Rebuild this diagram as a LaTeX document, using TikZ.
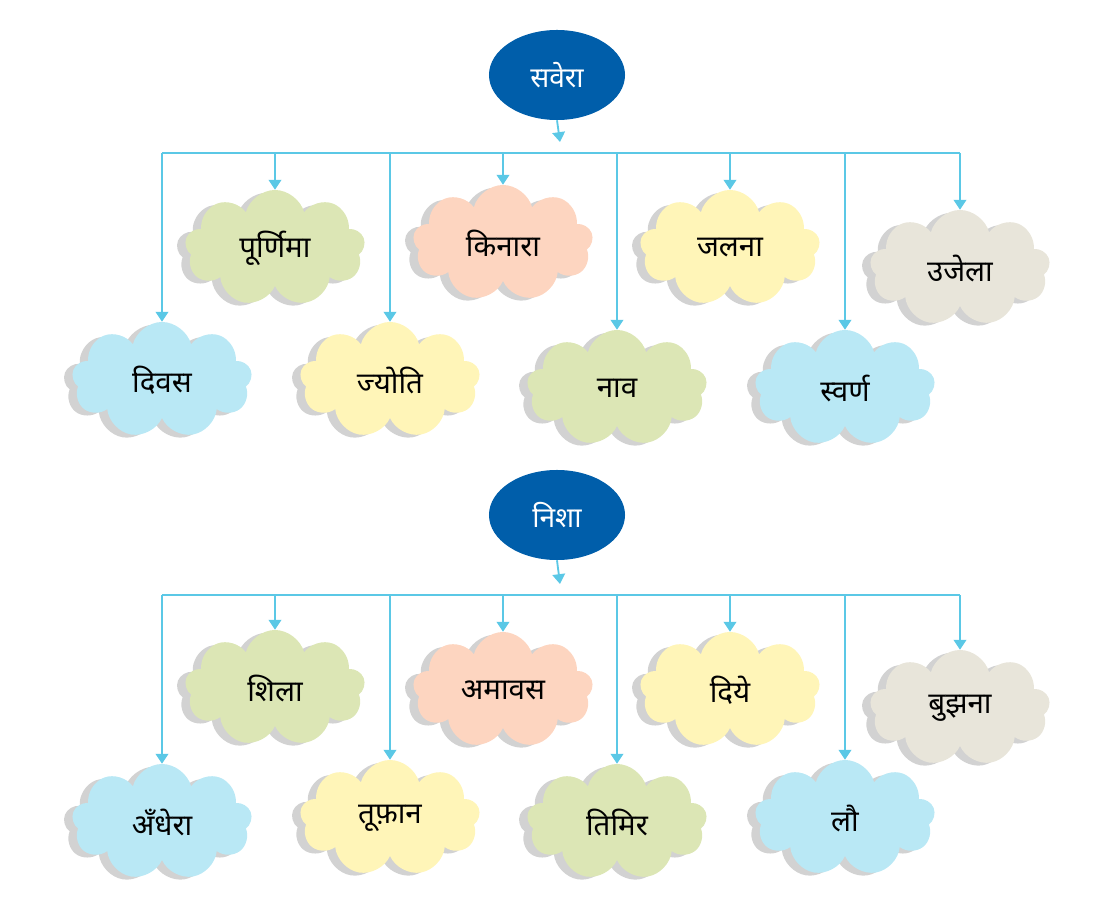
\documentclass[tikz,border=0pt]{standalone}
\usepackage{fontspec}
\newfontfamily\deva[Script=Devanagari]{Noto Sans}
\usetikzlibrary{shapes.symbols,shapes.geometric,shadows,arrows.meta}
\definecolor{linkblue}{HTML}{5BC8E6}
\definecolor{headblue}{HTML}{005EAA}
\definecolor{cblue}{HTML}{B9E8F5}
\definecolor{cyellow}{HTML}{FFF5B8}
\definecolor{cgreen}{HTML}{DCE6B5}
\definecolor{cpeach}{HTML}{FDD5C0}
\definecolor{cbeige}{HTML}{E8E5DA}
\tikzset{
  head/.style={ellipse,fill=headblue,minimum width=3.4cm,minimum height=2.25cm,
    text=white,font=\deva\bfseries\fontsize{20}{24}\selectfont},
  cloudbox/.style={cloud,cloud puffs=9,aspect=1.6,fill=#1,minimum width=4.5cm,
    minimum height=2.9cm,inner sep=0pt,font=\deva\fontsize{21}{25}\selectfont,
    drop shadow={shadow xshift=-6pt,shadow yshift=-2pt,fill=gray!35,opacity=1}},
  link/.style={draw=linkblue,line width=1.3pt},
  arr/.style={link,-{Triangle[length=7pt,width=9pt]}},
}
\begin{document}
\begin{tikzpicture}[x=0.025cm,y=-0.025cm]
  \useasboundingbox (0,0) rectangle (1099,912);

  % top tree
  \node[head] (savera) at (557,75) {सवेरा};
  \coordinate (sbusL) at (162,153);
  \coordinate (sbusR) at (960,153);
  \draw[arr] (savera.south) -- (560,142);
  \draw[link] (sbusL) -- (sbusR);

  \node[cloudbox=cgreen]  (purnima) at (275,248) {पूर्णिमा};
  \node[cloudbox=cpeach]  (kinara)  at (503,243) {किनारा};
  \node[cloudbox=cyellow] (jalna)   at (730,248) {जलना};
  \node[cloudbox=cbeige]  (ujela)   at (960,268) {उजेला};
  \node[cloudbox=cblue]   (divas)   at (162,380) {दिवस};
  \node[cloudbox=cyellow] (jyoti)   at (390,380) {ज्योति};
  \node[cloudbox=cgreen]  (naav)    at (617,388) {नाव};
  \node[cloudbox=cblue]   (svarn)   at (845,388) {स्वर्ण};

  \foreach \c in {purnima,kinara,jalna,ujela,divas,jyoti,naav,svarn}
    \draw[arr] (sbusL -| \c.north) -- (\c.north);

  % bottom tree
  \node[head] (nisha) at (557,515) {निशा};
  \coordinate (nbusL) at (162,595);
  \coordinate (nbusR) at (960,595);
  \draw[arr] (nisha.south) -- (560,584);
  \draw[link] (nbusL) -- (nbusR);

  \node[cloudbox=cgreen]  (shila)   at (275,688) {शिला};
  \node[cloudbox=cpeach]  (amavas)  at (503,690) {अमावस};
  \node[cloudbox=cyellow] (diye)    at (730,690) {दिये};
  \node[cloudbox=cbeige]  (bujhna)  at (960,708) {बुझना};
  \node[cloudbox=cblue]   (andhera) at (162,822) {अँधेरा};
  \node[cloudbox=cyellow] (toofan)  at (390,818) {तूफ़ान};
  \node[cloudbox=cgreen]  (timir)   at (617,822) {तिमिर};
  \node[cloudbox=cblue]   (lau)     at (845,818) {लौ};

  \foreach \c in {shila,amavas,diye,bujhna,andhera,toofan,timir,lau}
    \draw[arr] (nbusL -| \c.north) -- (\c.north);
\end{tikzpicture}
\end{document}
